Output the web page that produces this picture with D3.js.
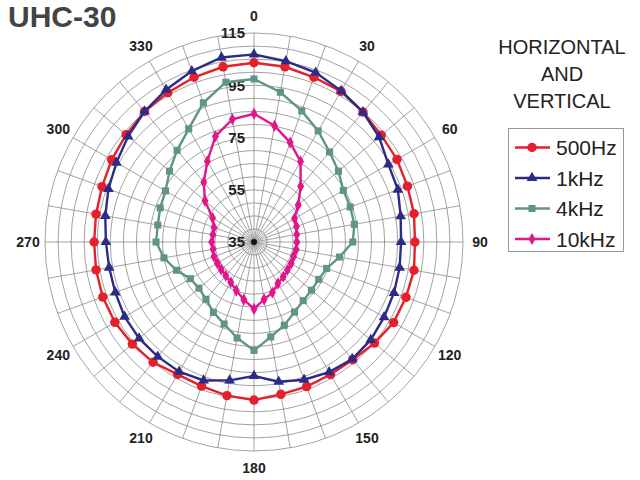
<!DOCTYPE html>
<html>
<head>
  <style>
    body { margin: 0; background: white; }
    text { font-family: "Liberation Sans", Arial, sans-serif; }
  </style>
</head>
<body>
  <div id="chart"></div>
  <script src="https://d3js.org/d3.v7.min.js"></script>
  <script>
  // measurement angles, degrees
  const angles = d3.range(0, 360, 10);

  // levels in dB, one per angle (0..350)
  const hz500 = [103.6, 103.1, 102.1, 101.6, 99.9, 98.6, 98.2, 97.5, 97.2, 96.6,
                 97.2, 96.9, 96.7, 95.2, 93.8, 93.6, 93.9, 94.2, 95.5, 94.7,
                 93.7, 93.5, 95.1, 95.8, 96.5, 96.6, 96.4, 96.2, 96.4, 96.9,
                 97.9, 98.9, 100.2, 101.0, 102.1, 103.1];
  const khz1 = [106.8, 105.3, 104.0, 101.8, 99.9, 97.5, 94.4, 93.6, 92.0, 91.3,
                91.6, 92.0, 92.5, 93.3, 93.5, 92.5, 91.1, 89.3, 86.3, 88.8,
                91.4, 92.3, 92.3, 92.4, 92.2, 91.5, 91.3, 91.7, 92.8, 94.3,
                95.8, 97.9, 100.2, 102.3, 104.6, 106.7];
  const khz4 = [97.4, 93.2, 88.4, 84.1, 80.0, 77.2, 74.5, 74.2, 74.0, 72.8,
                68.2, 64.6, 63.6, 63.7, 64.3, 66.0, 68.9, 71.9, 76.5, 72.3,
                68.4, 66.1, 63.6, 62.5, 63.1, 66.6, 70.0, 72.5, 72.4, 73.2,
                74.1, 77.2, 80.8, 85.0, 91.7, 97.1];
  const khz10 = [84.1, 80.2, 75.5, 70.6, 62.8, 57.1, 52.9, 52.3, 51.6, 51.4,
                 51.4, 51.1, 51.4, 51.7, 52.4, 53.3, 55.6, 57.3, 60.6, 57.4,
                 54.8, 52.8, 51.8, 51.4, 51.2, 51.3, 50.9, 51.2, 51.0, 51.3,
                 53.3, 59.5, 64.9, 70.7, 78.1, 82.7];

  const seriesNames = ["500Hz", "1kHz", "4kHz", "10kHz"];
  const seriesColors = ["#e5202b", "#2c2c86", "#5f9488", "#e0178b"];
  const ringTicks = [35, 55, 75, 95, 115];
  const angleTicks = d3.range(0, 360, 30);

  const series = [hz500, khz1, khz4, khz10].map((vals, i) => ({
    name: seriesNames[i],
    color: seriesColors[i],
    symbol: [d3.symbolCircle, d3.symbolTriangle, d3.symbolSquare, d3.symbolDiamond][i],
    size: [70, 50, 50, 42][i],
    values: vals.map((v, j) => ({angle: angles[j], value: v}))
  }));

  const width = 640, height = 480;
  const cx = 254, cy = 242, R = 209;

  const svg = d3.select("#chart").append("svg")
      .attr("width", width)
      .attr("height", height);

  const r = d3.scaleLinear().domain([35, 115]).range([0, R]);
  const a = d3.scaleLinear().domain([0, 360]).range([0, 2 * Math.PI]);

  const g = svg.append("g").attr("transform", `translate(${cx},${cy})`);

  // grid rings every 5 dB
  g.selectAll(".ring")
    .data(d3.range(40, 116, 5))
    .join("circle")
      .attr("r", d => r(d))
      .attr("fill", "none")
      .attr("stroke", "#8a8a8a")
      .attr("stroke-width", 0.8);

  // spokes every 10 degrees
  g.selectAll(".spoke")
    .data(angles)
    .join("line")
      .attr("x2", d => R * Math.sin(a(d)))
      .attr("y2", d => -R * Math.cos(a(d)))
      .attr("stroke", "#8a8a8a")
      .attr("stroke-width", 0.8);

  g.append("circle").attr("r", 3).attr("fill", "#111");

  // angle labels
  g.selectAll(".alabel")
    .data(angleTicks)
    .join("text")
      .attr("x", d => 226 * Math.sin(a(d)))
      .attr("y", d => -226 * Math.cos(a(d)))
      .attr("dy", "0.36em")
      .attr("text-anchor", "middle")
      .attr("font-size", 14)
      .attr("font-weight", "bold")
      .attr("fill", "#222")
      .text(d => d);

  // level labels on the vertical axis
  g.selectAll(".rlabel")
    .data(ringTicks)
    .join("text")
      .attr("x", -9)
      .attr("y", d => -r(d))
      .attr("dy", "0.36em")
      .attr("text-anchor", "end")
      .attr("font-size", 15)
      .attr("font-weight", "bold")
      .attr("fill", "#222")
      .text(d => d);

  const line = d3.lineRadial()
      .angle(d => a(d.angle))
      .radius(d => r(d.value))
      .curve(d3.curveLinearClosed);

  series.forEach(s => {
    g.append("path")
      .datum(s.values)
      .attr("d", line)
      .attr("fill", "none")
      .attr("stroke", s.color)
      .attr("stroke-width", 2.4);

    g.selectAll(null)
      .data(s.values)
      .join("path")
        .attr("transform", d => `translate(${r(d.value) * Math.sin(a(d.angle))},${-r(d.value) * Math.cos(a(d.angle))})`)
        .attr("d", d3.symbol().type(s.symbol).size(s.size))
        .attr("fill", s.color);
  });

  // title
  svg.append("text")
    .attr("x", 8)
    .attr("y", 27)
    .attr("font-size", 30)
    .attr("font-weight", "bold")
    .attr("fill", "#444")
    .text("UHC-30");

  // legend title
  svg.selectAll(".ltitle")
    .data(["HORIZONTAL", "AND", "VERTICAL"])
    .join("text")
      .attr("x", 562)
      .attr("y", (d, i) => 54 + i * 27)
      .attr("text-anchor", "middle")
      .attr("font-size", 20)
      .attr("fill", "#222")
      .text(d => d);

  // legend box
  const legend = svg.append("g");
  legend.append("rect")
    .attr("x", 508.5)
    .attr("y", 128.5)
    .attr("width", 115)
    .attr("height", 123)
    .attr("fill", "white")
    .attr("stroke", "#999")
    .attr("stroke-width", 1);

  series.forEach((s, i) => {
    const y = 147.5 + i * 30.5;
    legend.append("line")
      .attr("x1", 515).attr("x2", 550)
      .attr("y1", y).attr("y2", y)
      .attr("stroke", s.color)
      .attr("stroke-width", 2.4);
    legend.append("path")
      .attr("transform", `translate(532,${y})`)
      .attr("d", d3.symbol().type(s.symbol).size(s.size))
      .attr("fill", s.color);
    legend.append("text")
      .attr("x", 556)
      .attr("y", y)
      .attr("dy", "0.36em")
      .attr("font-size", 21)
      .attr("fill", "#222")
      .text(s.name);
  });
  </script>
</body>
</html>
